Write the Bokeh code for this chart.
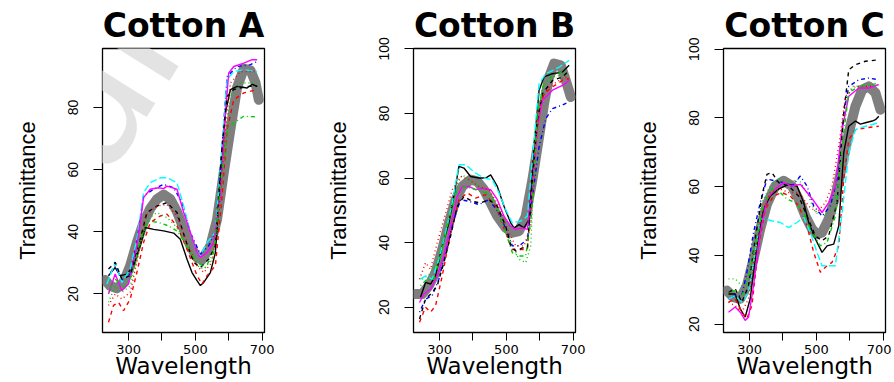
from bokeh.plotting import figure
from bokeh.layouts import row
from bokeh.models import FixedTicker, Label
from bokeh.embed import file_html
from bokeh.resources import INLINE

TITLES = ["Cotton A", "Cotton B", "Cotton C"]
X_LABEL = "Wavelength"
Y_LABEL = "Transmittance"
WATERMARK = "Journal Pre-proof"
WAVE_TICKS = [300, 400, 500, 600, 700]
WAVE_TICK_LABELS = {400: "", 600: ""}
T_TICKS = [20, 40, 60, 80, 100]

# ---------------- Cotton A (wavelength, transmittance) ----------------
A_mean = [(230,24.5),(245,22.6),(265,21.8),(285,23.7),(305,29.1),(325,36.6),(345,43.0),(365,47.5),(385,50.5),(405,52.0),(425,50.5),(445,46.5),(465,41.0),(485,35.5),(505,31.7),(520,31.0),(545,35.5),(565,44.0),(585,59.0),(605,73.0),(625,86.5),(645,92.5),(665,92.0),(680,88.0),(690,82.5)]
A_black_solid = [(240,25.9),(260,28.5),(275,25.9),(295,26.4),(315,29.1),(335,35.5),(350,41.4),(375,40.8),(405,40.3),(435,39.6),(455,37.6),(475,31.2),(490,26.9),(505,24.3),(515,22.7),(525,23.7),(545,26.9),(560,33.3),(575,56.9),(590,78.3),(605,85.8),(625,86.8),(655,86.3),(670,87.5),(685,86.8)]
A_red_dashed = [(240,10.9),(255,16.3),(270,17.3),(285,14.6),(305,18.4),(325,26.9),(345,36.6),(365,43.0),(395,45.1),(415,45.7),(445,41.9),(475,34.4),(505,25.9),(520,23.2),(535,25.9),(560,29.1),(580,51.5),(595,72.9),(615,82.5),(645,84.7),(685,85.8)]
A_green_dotted = [(240,17.3),(260,22.6),(280,20.5),(305,22.6),(330,33.3),(355,44.0),(385,46.2),(415,44.6),(445,41.4),(475,35.5),(505,29.1),(525,28.0),(550,31.2),(570,44.0),(590,67.6),(605,83.6),(635,87.9),(685,87.9)]
A_blue_dotdash = [(240,25.9),(260,29.1),(280,24.3),(305,26.4),(325,36.6),(345,51.5),(375,53.7),(405,55.3),(435,54.2),(460,49.4),(485,39.8),(515,32.8),(540,35.5),(560,39.8),(580,67.6),(595,90.0),(625,93.2),(665,93.8),(685,94.8)]
A_cyan_longdash = [(235,23.2),(260,30.2),(280,23.7),(305,28.0),(325,37.6),(345,52.6),(365,55.8),(395,57.4),(415,57.4),(445,55.8),(465,48.3),(485,39.8),(505,33.3),(515,32.3),(535,36.6),(560,39.8),(580,67.6),(595,89.0),(615,91.6),(645,92.2),(685,91.6)]
A_magenta_solid = [(240,20.0),(260,26.4),(280,21.0),(300,23.2),(325,35.5),(345,51.0),(365,53.7),(390,54.2),(405,53.9),(415,54.7),(445,53.7),(465,46.2),(485,39.8),(505,33.3),(515,31.8),(535,33.3),(555,36.6),(575,51.5),(590,78.3),(600,91.1),(615,93.2),(645,94.3),(670,95.4),(685,95.4)]
A_black_dashed = [(240,28.0),(260,30.2),(280,24.8),(305,25.9),(330,35.5),(355,46.2),(385,48.3),(415,49.4),(445,46.2),(470,37.6),(495,30.2),(515,28.5),(540,31.2),(560,35.5),(580,67.6),(595,83.6),(615,85.8),(655,86.8),(685,86.8)]
A_red_dotted = [(240,16.3),(260,20.0),(280,18.4),(305,20.5),(325,30.2),(350,45.1),(385,48.3),(415,48.8),(445,45.1),(475,36.6),(505,29.1),(525,26.9),(550,30.2),(570,46.2),(590,72.9),(605,87.9),(635,91.6),(685,91.6)]
A_green_dotdash = [(240,20.5),(260,24.8),(285,22.1),(310,25.9),(335,37.6),(360,43.5),(390,43.0),(420,41.9),(445,40.3),(475,35.5),(505,30.2),(530,28.5),(555,33.3),(575,54.7),(595,71.9),(615,75.1),(645,77.2),(680,77.0)]

# ---------------- Cotton B ----------------
B_mean = [(228,24.1),(248,24.1),(268,26.7),(288,30.8),(308,37.9),(328,46.1),(348,53.3),(368,57.4),(393,59.5),(413,59.0),(433,56.4),(453,52.3),(473,48.2),(498,44.6),(518,43.1),(538,43.6),(558,48.2),(578,59.5),(598,72.8),(613,83.1),(628,91.3),(643,95.4),(663,94.9),(678,90.2),(693,85.1)]
B_black_solid = [(243,23.1),(258,27.7),(273,27.2),(288,29.7),(308,39.0),(328,46.1),(348,57.4),(358,63.6),(373,63.1),(393,60.5),(418,60.0),(438,60.0),(453,61.0),(473,57.4),(493,51.3),(513,46.1),(523,44.6),(538,45.6),(553,44.6),(568,47.2),(583,69.7),(598,87.2),(613,91.3),(638,92.3),(668,92.8),(688,94.9)]
B_red_dashed = [(240,15.4),(258,20.0),(273,18.5),(288,20.5),(308,29.7),(333,43.1),(358,53.3),(383,55.4),(408,53.8),(438,54.9),(468,51.3),(498,43.1),(518,37.9),(543,37.9),(563,37.9),(578,59.5),(593,80.0),(613,86.1),(638,88.2),(668,90.2),(688,90.8)]
B_green_dotted = [(248,28.7),(268,30.0),(288,33.0),(308,40.0),(328,48.0),(348,57.0),(368,61.0),(418,57.4),(458,54.3),(498,45.1),(518,39.0),(538,34.9),(558,33.8),(573,39.0),(588,74.9),(608,88.2),(638,91.3),(688,92.3)]
B_blue_dotdash = [(240,18.5),(258,22.5),(278,23.6),(298,28.7),(318,36.9),(343,47.2),(363,53.3),(388,52.8),(418,51.8),(448,53.3),(478,49.2),(503,43.1),(518,39.0),(538,39.0),(563,41.0),(578,54.3),(598,69.7),(618,78.4),(638,81.5),(668,82.6),(688,83.6)]
B_cyan_longdash = [(243,28.7),(258,29.7),(278,28.7),(298,34.9),(318,43.1),(338,52.3),(358,64.1),(378,64.1),(408,61.5),(433,60.0),(458,59.5),(478,55.4),(498,50.2),(518,46.1),(543,46.7),(563,48.2),(583,71.8),(598,89.2),(618,92.3),(658,94.3),(688,96.4)]
B_magenta_solid = [(240,21.5),(253,24.1),(273,25.6),(293,29.7),(313,35.9),(333,45.1),(353,54.3),(368,57.4),(388,57.4),(408,56.4),(428,56.9),(453,56.4),(473,53.3),(493,48.2),(513,45.1),(528,44.1),(548,44.6),(563,44.1),(578,57.4),(593,75.9),(608,84.1),(638,87.2),(668,88.7),(688,90.2)]
B_black_dashed = [(240,16.4),(258,22.5),(278,24.6),(293,26.7),(313,33.8),(333,42.0),(353,51.3),(373,54.3),(398,52.8),(423,52.3),(448,53.3),(473,51.3),(498,45.1),(513,39.0),(528,37.4),(548,38.4),(563,38.4),(578,59.5),(593,77.9),(608,86.1),(638,90.2),(668,91.3),(688,93.3)]
B_red_dotted = [(240,28.7),(258,33.8),(273,31.8),(293,40.0),(313,47.2),(338,56.4),(363,60.5),(388,59.5),(418,57.4),(448,56.4),(478,51.3),(508,43.1),(528,39.0),(553,39.0),(573,45.1),(588,69.7),(603,84.1),(628,88.2),(658,90.2),(688,91.8)]
B_green_dotdash = [(243,26.7),(263,28.7),(283,28.7),(303,35.9),(328,47.2),(353,56.4),(378,57.4),(408,56.4),(438,55.4),(468,52.3),(498,43.1),(518,36.9),(538,35.9),(558,35.9),(576,49.2),(593,80.0),(613,89.2),(638,91.8),(678,93.3)]

# ---------------- Cotton C ----------------
C_mean = [(232,29.8),(252,27.9),(272,27.4),(292,31.2),(312,39.0),(332,47.7),(352,54.9),(377,60.2),(402,61.7),(427,60.2),(447,56.4),(467,51.5),(487,47.7),(502,46.2),(517,46.7),(537,50.6),(557,57.3),(577,66.0),(597,75.7),(617,83.4),(637,88.2),(657,89.2),(677,87.3),(692,82.4)]
C_black_solid = [(237,28.8),(257,28.8),(272,24.5),(287,22.1),(302,27.4),(322,42.8),(342,53.5),(362,57.3),(387,59.3),(417,60.7),(442,60.2),(462,55.4),(477,49.6),(497,44.8),(517,40.9),(532,42.8),(552,43.3),(567,48.6),(582,69.9),(597,77.6),(617,79.1),(632,78.2),(647,78.6),(667,79.1),(677,79.5),(687,80.5)]
C_red_dashed = [(237,26.4),(257,27.4),(277,23.5),(292,21.6),(307,25.4),(327,42.8),(347,53.5),(372,57.3),(397,58.3),(422,57.3),(447,54.4),(472,48.6),(492,40.9),(512,35.1),(527,36.6),(547,38.0),(567,42.8),(582,62.2),(597,73.7),(617,76.6),(647,77.1),(687,77.6)]
C_green_dotted = [(237,33.2),(257,33.2),(277,31.2),(297,34.1),(317,44.8),(337,55.4),(362,60.2),(387,62.2),(417,61.2),(447,62.2),(472,58.3),(497,52.5),(522,51.5),(547,53.5),(567,64.1),(587,84.4),(607,89.2),(637,89.2),(687,89.7)]
C_blue_dotdash = [(237,27.4),(257,28.3),(277,28.3),(292,35.1),(312,46.7),(332,55.4),(352,62.2),(377,61.7),(402,61.2),(427,60.2),(452,63.1),(472,60.2),(492,54.4),(517,51.5),(542,54.4),(562,62.2),(582,81.5),(597,89.2),(627,91.1),(657,91.6),(687,91.1)]
C_cyan_longdash = [(237,27.4),(257,28.3),(277,26.4),(297,29.3),(317,40.9),(332,50.6),(347,50.6),(367,50.1),(392,49.6),(417,48.1),(442,49.6),(462,51.1),(482,46.7),(502,40.9),(517,37.0),(537,37.0),(557,37.0),(577,52.5),(597,69.9),(617,76.6),(647,77.6),(687,78.6)]
C_magenta_solid = [(237,23.5),(257,25.0),(272,23.5),(287,21.1),(297,22.1),(312,31.2),(332,46.7),(352,56.4),(377,59.3),(402,61.2),(427,60.2),(452,60.7),(472,58.3),(492,55.9),(517,52.5),(537,55.4),(557,60.2),(577,76.6),(597,86.3),(627,88.7),(657,88.7),(687,89.7)]
C_black_dashed = [(237,29.3),(257,30.3),(277,26.4),(297,31.2),(317,44.8),(337,57.3),(352,63.6),(367,64.1),(387,61.2),(417,60.2),(447,57.3),(472,51.5),(497,45.7),(517,44.3),(537,45.7),(562,55.4),(582,81.5),(597,94.0),(617,95.5),(647,96.5),(687,96.9)]
C_red_dotted = [(237,26.4),(257,25.4),(277,23.5),(297,27.4),(317,40.9),(337,52.5),(362,58.3),(392,59.3),(417,58.3),(447,58.3),(477,54.4),(502,52.5),(527,55.4),(547,60.2),(567,71.8),(587,86.3),(617,89.2),(667,89.2)]
C_green_dotdash = [(237,29.3),(257,29.8),(277,28.3),(297,33.2),(317,42.8),(342,54.4),(367,59.3),(392,58.3),(412,56.4),(437,55.4),(462,52.5),(487,46.7),(512,42.8),(532,43.8),(557,51.5),(577,71.8),(597,87.3),(627,89.2),(667,89.7),(687,90.2)]

# line styles (R matplot defaults)
STYLE = {
    "black_solid": ("#000000", "solid"),
    "red_dashed": ("#FF0000", "4 4"),
    "green_dotted": ("#00CD00", "1 3"),
    "blue_dotdash": ("#0000FF", "1 3 4 3"),
    "cyan_longdash": ("#00FFFF", "7 3"),
    "magenta_solid": ("#FF00FF", "solid"),
    "black_dashed": ("#000000", "4 4"),
    "red_dotted": ("#FF0000", "1 3"),
    "green_dotdash": ("#00CD00", "1 3 4 3"),
}

PANELS = [
    dict(title=TITLES[0], mean=A_mean, yr=(7.6, 99.0), bl=102, br=34, series={
        "black_solid": A_black_solid, "red_dashed": A_red_dashed, "green_dotted": A_green_dotted,
        "blue_dotdash": A_blue_dotdash, "cyan_longdash": A_cyan_longdash, "magenta_solid": A_magenta_solid,
        "black_dashed": A_black_dashed, "red_dotted": A_red_dotted, "green_dotdash": A_green_dotdash}),
    dict(title=TITLES[1], mean=B_mean, yr=(12.2, 100.1), bl=115, br=21, series={
        "black_solid": B_black_solid, "red_dashed": B_red_dashed, "green_dotted": B_green_dotted,
        "blue_dotdash": B_blue_dotdash, "cyan_longdash": B_cyan_longdash, "magenta_solid": B_magenta_solid,
        "black_dashed": B_black_dashed, "red_dotted": B_red_dotted, "green_dotdash": B_green_dotdash}),
    dict(title=TITLES[2], mean=C_mean, yr=(17.6, 100.2), bl=127, br=6, series={
        "black_solid": C_black_solid, "red_dashed": C_red_dashed, "green_dotted": C_green_dotted,
        "blue_dotdash": C_blue_dotdash, "cyan_longdash": C_cyan_longdash, "magenta_solid": C_magenta_solid,
        "black_dashed": C_black_dashed, "red_dotted": C_red_dotted, "green_dotdash": C_green_dotdash}),
]

FRAME_W = 162
FIG_H = 382

figs = []
for i, pan in enumerate(PANELS):
    w = pan["bl"] + FRAME_W + pan["br"]
    p = figure(width=w, height=FIG_H, x_range=(222, 707), y_range=pan["yr"],
               output_backend="svg", toolbar_location=None,
               min_border_left=pan["bl"], min_border_right=pan["br"],
               min_border_top=47, min_border_bottom=50)
    p.background_fill_color = "white"
    p.border_fill_color = "white"
    p.grid.visible = False
    p.outline_line_color = "black"
    p.outline_line_width = 1.3

    if i == 0:
        wm = Label(x=-72, y=-48, x_units="screen", y_units="screen", text=WATERMARK,
                   angle=58, angle_units="deg", text_font="Liberation Sans",
                   text_font_size="195px", text_color="#e3e3e3", level="underlay")
        p.add_layout(wm)

    xs, ys = zip(*pan["mean"])
    p.line(list(xs), list(ys), line_color="#7f7f7f", line_width=10, line_cap="round", line_join="round")
    for name, pts in pan["series"].items():
        col, dash = STYLE[name]
        xs, ys = zip(*pts)
        p.line(list(xs), list(ys), line_color=col, line_dash=dash, line_width=1.4)

    # title
    p.title.text = pan["title"]
    p.title.align = "center"
    p.title.text_font = "DejaVu Sans"
    p.title.text_font_style = "bold"
    p.title.text_font_size = "33px"
    p.title.text_color = "black"
    p.title.standoff = 7

    # x axis
    p.xaxis.ticker = FixedTicker(ticks=WAVE_TICKS)
    p.xaxis.major_label_overrides = WAVE_TICK_LABELS
    p.xaxis.major_label_text_font = "DejaVu Sans"
    p.xaxis.major_label_text_font_size = "13px"
    p.xaxis.major_label_standoff = 4
    p.xaxis.axis_line_color = None
    p.xaxis.major_tick_out = 8
    p.xaxis.major_tick_in = 0
    p.xaxis.minor_tick_out = 0
    p.xaxis.minor_tick_in = 0
    p.xaxis.major_tick_line_color = "black"
    p.xaxis.major_label_text_color = "black"
    p.xaxis.axis_label = X_LABEL
    p.xaxis.axis_label_text_font = "DejaVu Sans"
    p.xaxis.axis_label_text_font_style = "normal"
    p.xaxis.axis_label_text_font_size = "23px"
    p.xaxis.axis_label_text_color = "black"
    p.xaxis.axis_label_standoff = -4

    # y axis
    p.yaxis.ticker = FixedTicker(ticks=T_TICKS)
    p.yaxis.major_label_orientation = "vertical"
    p.yaxis.major_label_text_font = "Liberation Sans"
    p.yaxis.major_label_text_font_size = "14px"
    p.yaxis.major_label_standoff = 15
    p.yaxis.axis_line_color = None
    p.yaxis.major_tick_out = 9
    p.yaxis.major_tick_in = 0
    p.yaxis.minor_tick_out = 0
    p.yaxis.minor_tick_in = 0
    p.yaxis.major_tick_line_color = "black"
    p.yaxis.major_label_text_color = "black"
    p.yaxis.axis_label = Y_LABEL
    p.yaxis.axis_label_text_font = "Liberation Sans"
    p.yaxis.axis_label_text_font_style = "normal"
    p.yaxis.axis_label_text_font_size = "22px"
    p.yaxis.axis_label_text_color = "black"
    p.yaxis.axis_label_standoff = 26

    figs.append(p)

layout = row(*figs)
open("out.html", "w").write(file_html(layout, INLINE))
